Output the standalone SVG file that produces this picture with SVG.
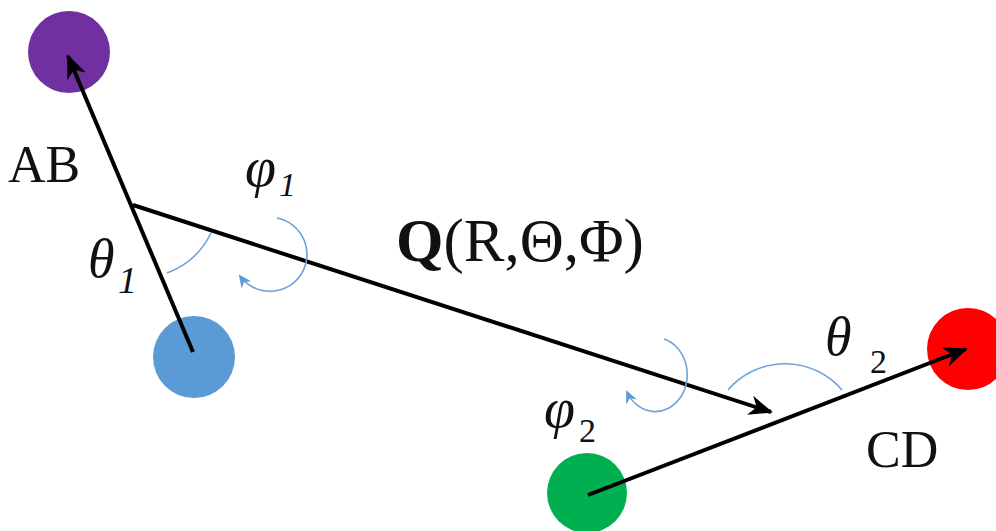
<svg xmlns="http://www.w3.org/2000/svg" width="996" height="531" viewBox="0 0 996 531">
<style>
.vec{stroke:#000;stroke-width:4;fill:none;marker-end:url(#ah)}
.ang{stroke:#6fa3d8;stroke-width:1.6;fill:none}
.rot{stroke:#6fa3d8;stroke-width:1.6;fill:none;marker-end:url(#bh)}
.t{font-family:"Liberation Serif","Times New Roman",serif;fill:#111}
.i{font-style:italic}
</style>
<defs>
<marker id="ah" markerUnits="userSpaceOnUse" markerWidth="40" markerHeight="40" viewBox="-30 -15 40 30" refX="0" refY="0" orient="auto" overflow="visible">
<path d="M2,0 L-22,-10 L-15,0 L-22,10 Z" fill="#000"/>
</marker>
<marker id="bh" markerUnits="userSpaceOnUse" markerWidth="20" markerHeight="20" viewBox="-15 -10 20 20" refX="0" refY="0" orient="auto" overflow="visible">
<path d="M2,0 L-11,-6 L-7,0 L-11,6 Z" fill="#5b9bd5"/>
</marker>
</defs>
<g id="node-a"><circle cx="69" cy="52" r="41" fill="#7030a0"/></g>
<g id="node-b"><circle cx="194" cy="357" r="41" fill="#5b9bd5"/></g>
<g id="node-c"><circle cx="587" cy="493" r="40" fill="#00b050"/></g>
<g id="node-d"><circle cx="968" cy="349" r="41" fill="#ff0000"/></g>
<g id="connectors">
<path class="vec" d="M193,352 L68,56"/>
<path class="vec" d="M133,205 L771,412"/>
<path class="vec" d="M588,495 L966,349"/>
<path class="ang" d="M167,273 A80 80 0 0 0 211,233"/>
<path class="ang" d="M728,390 A75 75 0 0 1 842,390"/>
<path class="rot" d="M277,218 A37 37 0 1 1 240,276"/>
<path class="rot" d="M664,339 A32 37 0 1 1 627,392"/>
</g>
<g id="labels">
<text class="t" x="8" y="182" font-size="52">AB</text>
<text class="t" x="866" y="467" font-size="52">CD</text>
<text class="t" x="396" y="261" font-size="61"><tspan font-weight="bold">Q</tspan>(R,Θ,Φ)</text>
<text class="t i" x="88" y="277" font-size="54">θ</text>
<text class="t i" x="118" y="293" font-size="38">1</text>
<text class="t i" x="245" y="186" font-size="56">φ</text>
<text class="t i" x="279" y="196" font-size="34">1</text>
<text class="t i" x="825" y="355" font-size="54">θ</text>
<text class="t" x="870" y="373" font-size="34">2</text>
<text class="t i" x="544" y="427" font-size="56">φ</text>
<text class="t" x="579" y="442" font-size="34">2</text>
</g>
</svg>
